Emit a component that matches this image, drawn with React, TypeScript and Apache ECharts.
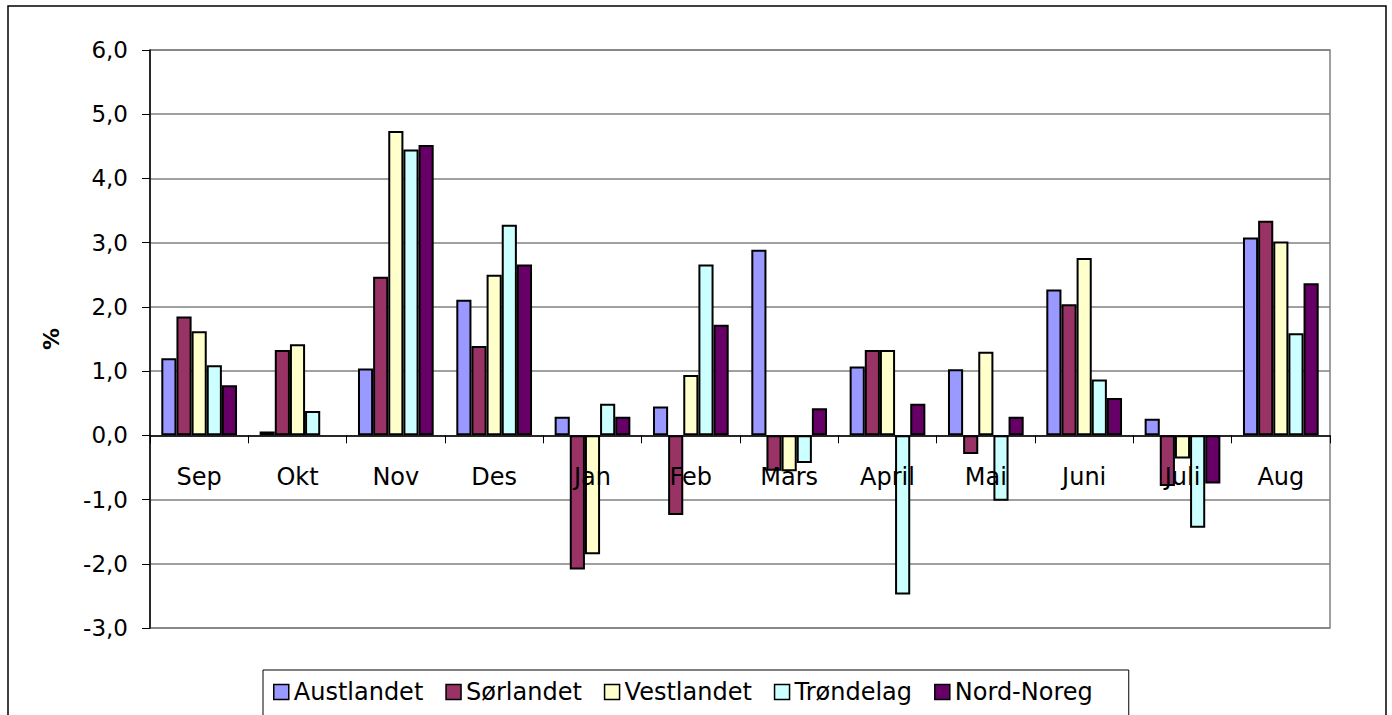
import React, { useEffect, useRef } from "react";
import * as echarts from "echarts";

const categories = ["Sep", "Okt", "Nov", "Des", "Jan", "Feb", "Mars", "April", "Mai", "Juni", "Juli", "Aug"];
const seriesNames = ["Austlandet", "Sørlandet", "Vestlandet", "Trøndelag", "Nord-Noreg"];
const austlandet = [1.2, 0.06, 1.04, 2.11, 0.29, 0.45, 2.89, 1.07, 1.03, 2.27, 0.26, 3.08];
const sorlandet = [1.85, 1.33, 2.47, 1.39, -2.09, -1.24, -0.55, 1.33, -0.29, 2.04, -0.79, 3.34];
const vestlandet = [1.62, 1.42, 4.74, 2.5, -1.85, 0.94, -0.56, 1.33, 1.3, 2.76, -0.36, 3.02];
const trondelag = [1.09, 0.38, 4.45, 3.28, 0.49, 2.66, -0.43, -2.48, -1.02, 0.87, -1.44, 1.59];
const nordNoreg = [0.78, null, 4.52, 2.66, 0.29, 1.72, 0.42, 0.49, 0.29, 0.58, -0.75, 2.37];
const colors = ["#9999FF", "#993366", "#FFFFCC", "#CCFFFF", "#660066"];

const FONT = "DejaVu Sans";
const Y_MIN = -3;
const Y_MAX = 6;
const GRID_TOP = 50;
const GRID_BOTTOM = 87;
const HEIGHT = 715;

export default function App() {
  const ref = useRef<HTMLDivElement>(null);
  useEffect(() => {
    if (!ref.current) return;
    const chart = echarts.init(ref.current, null, { renderer: "svg" });
    const values = [austlandet, sorlandet, vestlandet, trondelag, nordNoreg];
    const plotH = HEIGHT - GRID_TOP - GRID_BOTTOM;
    const zeroOffset = -(plotH * (0 - Y_MIN)) / (Y_MAX - Y_MIN);
    chart.setOption({
      animation: false,
      backgroundColor: "#ffffff",
      textStyle: { fontFamily: FONT },
      graphic: [
        {
          type: "rect",
          z: 100,
          silent: true,
          shape: { x: 8, y: 6, width: 1378, height: 730 },
          style: { fill: "none", stroke: "#000000", lineWidth: 1.5 },
        },
      ],
      grid: {
        left: 150,
        top: GRID_TOP,
        right: 62,
        bottom: GRID_BOTTOM,
        show: true,
        borderColor: "#808080",
        borderWidth: 1.5,
        backgroundColor: "#ffffff",
      },
      legend: {
        data: seriesNames,
        left: 263,
        top: 670,
        orient: "horizontal",
        padding: [10, 36, 30, 10],
        itemGap: 22,
        itemWidth: 15,
        itemHeight: 15,
        icon: "rect",
        borderColor: "#000000",
        borderWidth: 1,
        textStyle: { fontFamily: FONT, fontSize: 24, color: "#000000" },
        itemStyle: { borderColor: "#000000", borderWidth: 1.5 },
      },
      xAxis: {
        type: "category",
        data: categories,
        z: 10,
        offset: zeroOffset,
        axisLine: { onZero: false, lineStyle: { color: "#000000", width: 1.5 } },
        axisTick: { show: true, length: 8, lineStyle: { color: "#000000", width: 1 } },
        axisLabel: { margin: 30, fontFamily: FONT, fontSize: 24, color: "#000000" },
        splitLine: { show: false },
      },
      yAxis: {
        type: "value",
        min: Y_MIN,
        max: Y_MAX,
        interval: 1,
        name: "%",
        nameLocation: "middle",
        nameRotate: 90,
        nameGap: 88,
        nameTextStyle: { fontFamily: FONT, fontSize: 22, fontWeight: "bold", color: "#000000" },
        axisLine: { show: true, lineStyle: { color: "#000000", width: 1.5 } },
        axisTick: { show: true, length: 8, lineStyle: { color: "#000000", width: 1 } },
        axisLabel: {
          margin: 22,
          fontFamily: FONT,
          fontSize: 23,
          color: "#000000",
          formatter: (v: number) => v.toFixed(1).replace(".", ","),
        },
        splitLine: { show: true, lineStyle: { color: "#808080", width: 1.5 } },
      },
      series: seriesNames.map((name, i) => ({
        name,
        type: "bar",
        data: values[i],
        barGap: "0%",
        barCategoryGap: "23%",
        itemStyle: { color: colors[i], borderColor: "#000000", borderWidth: 2 },
      })),
    });
    return () => chart.dispose();
  }, []);
  return (
    <div
      ref={ref}
      style={{ position: "fixed", left: 0, top: 0, width: 1392, height: 715 }}
    />
  );
}
